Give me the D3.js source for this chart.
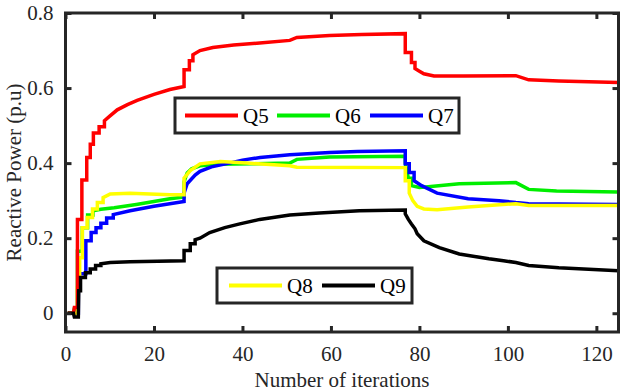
<!DOCTYPE html>
<html><head><meta charset="utf-8">
<script src="https://cdn.jsdelivr.net/npm/d3@7/dist/d3.min.js"></script>
<style>body{margin:0;background:#fff}svg{display:block}text{font-family:'Liberation Serif','Times New Roman',serif}</style>
</head><body>
<svg id="c" width="621" height="391"></svg>
<script>
const xTicks = [0, 20, 40, 60, 80, 100, 120];
const yTicks = [0, 0.2, 0.4, 0.6, 0.8];
const seriesNames = ["Q5", "Q6", "Q7", "Q8", "Q9"];
const seriesColors = ["#ff0000", "#00ee00", "#0000ff", "#ffff00", "#000000"];

const q5 = [[0.5,0],[1.8,0],[2,0.015],[2.7,0.015],[2.7,0.25],[3.7,0.25],[3.7,0.355],[4.8,0.355],[4.8,0.415],[5.6,0.415],[5.6,0.45],[6.3,0.45],[6.3,0.48],[7.6,0.48],[7.6,0.497],[8.8,0.497],[8.8,0.513],[10,0.525],[11.7,0.542],[14,0.556],[16.2,0.567],[20,0.583],[23.6,0.596],[26.8,0.604],[26.8,0.649],[28,0.649],[28,0.673],[28.8,0.673],[28.8,0.689],[30.4,0.70],[33.3,0.708],[38,0.715],[43.9,0.72],[50.7,0.727],[52.3,0.735],[59.7,0.74],[67,0.743],[76.8,0.745],[76.8,0.695],[78.2,0.695],[78.2,0.668],[79,0.668],[79,0.652],[80,0.645],[81,0.638],[83.3,0.632],[90,0.632],[101.8,0.633],[104.7,0.622],[111.5,0.619],[125,0.615]];
const q6 = [[0.5,0],[1.8,0],[2,0.012],[2.7,0.012],[2.7,0.165],[3.8,0.165],[3.8,0.228],[5,0.228],[5,0.262],[6.2,0.262],[6.2,0.273],[8,0.277],[11,0.281],[16,0.29],[23.6,0.305],[26.8,0.31],[26.8,0.35],[27.5,0.374],[28.5,0.385],[30.4,0.393],[35,0.397],[42,0.398],[50.7,0.400],[52.3,0.41],[59.7,0.416],[76.8,0.418],[76.8,0.4],[77.5,0.36],[78.2,0.36],[78.2,0.34],[80,0.335],[82,0.337],[89,0.345],[101.8,0.348],[104.7,0.33],[111,0.326],[125,0.323]];
const q7 = [[0.5,0],[2.9,0],[2.9,0.105],[4.6,0.105],[4.6,0.193],[5.8,0.193],[5.8,0.215],[6.9,0.215],[6.9,0.228],[8,0.228],[8,0.24],[9.3,0.24],[9.3,0.254],[10.8,0.254],[10.8,0.263],[14.6,0.273],[20,0.285],[26.8,0.298],[26.8,0.32],[27.5,0.345],[29.3,0.368],[30.4,0.378],[33,0.39],[37,0.400],[40,0.408],[44,0.415],[50.7,0.422],[59.7,0.428],[66,0.431],[76.8,0.433],[76.8,0.398],[77.7,0.398],[77.7,0.375],[78.8,0.375],[78.8,0.353],[80.5,0.34],[84,0.32],[91,0.305],[98,0.30],[101.8,0.295],[104.7,0.292],[125,0.29]];
const q8 = [[0.5,0],[2.7,0],[2.7,0.068],[3.2,0.068],[3.2,0.148],[3.8,0.148],[3.8,0.228],[4.9,0.228],[4.9,0.255],[6.1,0.255],[6.1,0.278],[7.2,0.278],[7.2,0.295],[8.5,0.295],[8.5,0.308],[10.1,0.318],[14.6,0.32],[23.6,0.316],[26.8,0.316],[26.8,0.36],[28.2,0.38],[30.4,0.398],[35,0.404],[41,0.400],[50.7,0.393],[52.3,0.389],[76.8,0.388],[76.8,0.353],[77.7,0.353],[77.7,0.32],[78.5,0.3],[79.5,0.285],[81,0.278],[84,0.276],[91,0.283],[98,0.289],[101.8,0.292],[104.7,0.287],[125,0.287]];
const q9 = [[0.5,0],[1.8,0],[2,-0.01],[2.9,-0.01],[3,0.06],[3.4,0.06],[3.4,0.095],[4.5,0.095],[4.5,0.108],[5.6,0.108],[5.6,0.118],[6.8,0.118],[6.8,0.127],[8,0.127],[8,0.132],[10.1,0.135],[14.6,0.137],[26.8,0.14],[26.8,0.167],[28.2,0.167],[28.2,0.185],[29.3,0.185],[29.3,0.196],[30.4,0.2],[32.6,0.215],[36,0.228],[39.4,0.238],[43.9,0.25],[50.7,0.262],[57.4,0.267],[66.4,0.273],[76.8,0.275],[76.8,0.265],[77.5,0.25],[78.2,0.238],[79,0.225],[79.5,0.212],[81,0.193],[84.5,0.175],[89,0.158],[95.7,0.145],[99,0.14],[101.8,0.135],[104.7,0.127],[111.5,0.121],[125,0.113]];
const seriesData = [q5, q6, q7, q8, q9];

const svg = d3.select("#c");
const L = 65.5, R = 618.5, T = 13, B = 332;
const x = d3.scaleLinear().domain([0, 125]).range([L, R]);
const y = d3.scaleLinear().domain([-0.05, 0.8]).range([B, T]);
const font = "'Liberation Serif','Times New Roman',serif";
const axisColor = "#262626";

svg.append("defs").append("clipPath").attr("id","clip")
  .append("rect").attr("x",L).attr("y",T).attr("width",R-L).attr("height",B-T);

const line = d3.line().x(d=>x(d[0])).y(d=>y(d[1]));
const gLines = svg.append("g").attr("clip-path","url(#clip)");
[1,2,3,0,4].forEach(i=>{
  gLines.append("path").attr("d", line(seriesData[i]))
    .attr("fill","none").attr("stroke",seriesColors[i]).attr("stroke-width",3.5)
    .attr("stroke-linejoin","miter");
});

const axG = svg.append("g");
const tl = 6;
axG.append("g").attr("transform",`translate(0,${B})`)
  .call(d3.axisBottom(x).tickValues(xTicks).tickSize(-tl).tickPadding(14).tickFormat(d3.format("d")));
axG.append("g").attr("transform",`translate(0,${T})`)
  .call(d3.axisTop(x).tickValues(xTicks).tickSize(-tl).tickFormat(""));
axG.append("g").attr("transform",`translate(${L},0)`)
  .call(d3.axisLeft(y).tickValues(yTicks).tickSize(-tl).tickPadding(12).tickFormat(d=>d===0?"0":d3.format(".1f")(d)));
axG.append("g").attr("transform",`translate(${R},0)`)
  .call(d3.axisRight(y).tickValues(yTicks).tickSize(-tl).tickFormat(""));
axG.selectAll(".domain").remove();
axG.selectAll("g").attr("font-family",font);
axG.selectAll(".tick line").attr("stroke",axisColor).attr("stroke-width",3);
axG.selectAll(".tick text").attr("font-family",font).attr("font-size",21).attr("fill",axisColor);
svg.append("rect").attr("x",L).attr("y",T).attr("width",R-L).attr("height",B-T)
  .attr("fill","none").attr("stroke",axisColor).attr("stroke-width",3);

svg.append("text").attr("x",(L+R)/2).attr("y",387).attr("text-anchor","middle")
  .attr("font-family",font).attr("font-size",21).attr("fill",axisColor).text("Number of iterations");
svg.append("text").attr("transform",`translate(21,${(T+B)/2}) rotate(-90)`).attr("text-anchor","middle")
  .attr("font-family",font).attr("font-size",21).attr("fill",axisColor).text("Reactive Power (p.u)");

function legend(bx, by, bw, bh, entries){
  const g = svg.append("g");
  g.append("rect").attr("x",bx).attr("y",by).attr("width",bw).attr("height",bh)
    .attr("fill","#fff").attr("stroke",axisColor).attr("stroke-width",3);
  entries.forEach(e=>{
    const i = e.i;
    g.append("line").attr("x1",e.x).attr("x2",e.x+53).attr("y1",by+bh/2).attr("y2",by+bh/2)
      .attr("stroke",seriesColors[i]).attr("stroke-width",4);
    g.append("text").attr("x",e.x+58).attr("y",by+bh/2+7).attr("font-family",font)
      .attr("font-size",21).attr("fill","#000").text(seriesNames[i]);
  });
}
legend(175, 98, 284, 35, [{i:0,x:185},{i:1,x:277},{i:2,x:370}]);
legend(217, 268, 195, 35, [{i:3,x:229},{i:4,x:322}]);
</script>
</body></html>
